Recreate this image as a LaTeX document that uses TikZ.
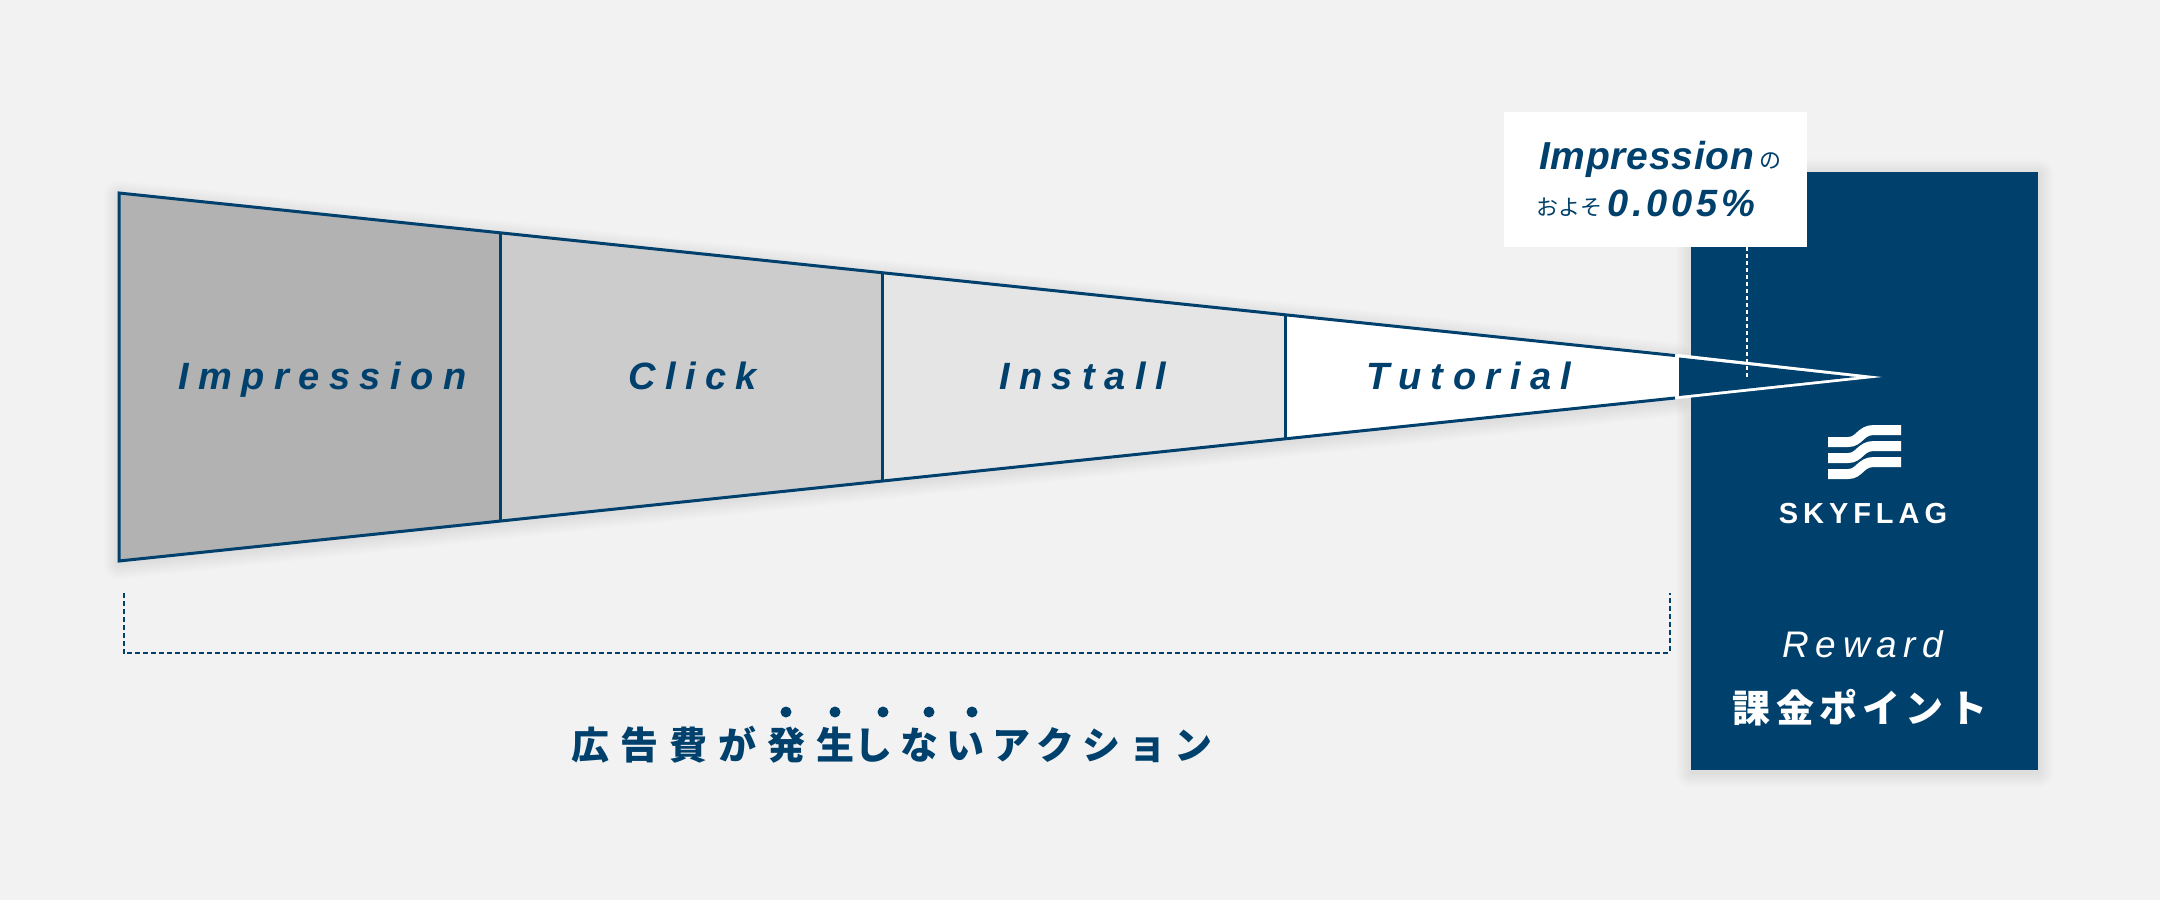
\documentclass[tikz,border=0pt]{standalone}
\usepackage{fontspec}
\setmainfont{Liberation Sans}
\newfontfamily\cjk{Noto Sans CJK JP}
\newcommand{\track}[1]{\addfontfeature{LetterSpace=#1}}
\definecolor{navy}{HTML}{00406C}
\definecolor{paper}{HTML}{F2F2F2}
\tikzset{
    stage/.style={inner sep=0pt, anchor=base west, text=navy, font=\fontsize{38}{38}\selectfont\bfseries\itshape\track{25}},
    note/.style={inner sep=0pt, anchor=base west, text=navy},
    panel/.style={inner sep=0pt, anchor=base, text=white},
    edge/.style={navy, line width=3pt},
    span/.style={navy, line width=2pt, dash pattern=on 5pt off 3pt},
}
\begin{document}
\begin{tikzpicture}[x=1pt, y=-1pt]
    \useasboundingbox (0, 0) rectangle (2160, 900);
    \fill[paper] (0, 0) rectangle (2160, 900);

    \foreach \w in {3, 6, ..., 30}
        \draw[black, opacity=0.007, line width=\w pt, line join=round]
            (119, 196) -- (1678, 358) -- (1678, 401) -- (119, 564) -- cycle;
    \foreach \w in {3, 6, ..., 30}
        \draw[black, opacity=0.007, line width=\w pt, line join=round]
            (1691, 174) rectangle (2038, 772);
    \fill[navy] (1691, 172) rectangle (2038, 770);

    \fill[white] (1504, 112) rectangle (1807, 247);

    \fill[gray!60] (119, 193) -- (500, 233) -- (500, 521) -- (119, 561) -- cycle;
    \fill[gray!40] (500, 233) -- (882, 273) -- (882, 481) -- (500, 521) -- cycle;
    \fill[gray!20] (882, 273) -- (1285, 315) -- (1285, 439) -- (882, 481) -- cycle;
    \fill[white] (1285, 315) -- (1678, 354) -- (1882, 377) -- (1678, 399) -- (1285, 439) -- cycle;
    \draw[edge, line join=miter] (1675, 355.5) -- (119, 193) -- (119, 561) -- (1675, 398);
    \draw[edge] (500, 233) -- (500, 521);
    \draw[edge] (882, 273) -- (882, 481);
    \draw[edge] (1285, 315) -- (1285, 439);
    \fill[navy] (1679, 357.5) -- (1856, 377) -- (1679, 396) -- cycle;
    \draw[white, line width=1.8pt, dash pattern=on 4pt off 3pt] (1747, 247) -- (1747, 379);

    \node[stage] (impression) at (178, 389) {Impression};
    \node[stage] (click) at (628, 389) {Click};
    \node[stage] (install) at (999, 389) {Install};
    \node[stage] (tutorial) at (1366, 389) {Tutorial};

    \node[note, font=\fontsize{39}{39}\selectfont\bfseries\itshape\track{2}] (ratio) at (1539, 169) {Impression};
    \node[note, font=\fontsize{22}{22}\selectfont\cjk] (of) at (1759, 168) {の};
    \node[note, font=\fontsize{22}{22}\selectfont\cjk] (about) at (1536, 215) {およそ};
    \node[note, font=\fontsize{38}{38}\selectfont\bfseries\itshape\track{10}] (share) at (1607, 216) {0.005\%};

    \foreach \y in {442, 458, 474}
        \draw[white, line width=10pt] (1828, \y) -- (1848, \y)
            .. controls (1860, \y) and (1860, \y - 12) .. (1874, \y - 12) -- (1901, \y - 12);

    \node[panel, font=\fontsize{29}{29}\selectfont\bfseries\track{17}] (logo) at (1863, 523) {SKYFLAG};
    \node[panel, font=\fontsize{37}{37}\selectfont\itshape\track{18}] (reward) at (1863, 657) {Reward};
    \node[panel, font=\fontsize{38}{38}\selectfont\cjk\bfseries\track{14}] (billing) at (1860, 722) {課金ポイント};

    \coordinate (spanleft) at (123.7, 593);
    \coordinate (spanright) at (1669.5, 593);
    \draw[span] (spanleft) -- (123.7, 653.3) -- (1669.5, 653.3) -- (spanright);

    \foreach \x in {786, 835, 883, 929, 972}
        \fill[navy] (\x, 712) circle (5.5);
    \node[note, font=\fontsize{38}{38}\selectfont\cjk\bfseries] (free) at (571, 759) {{\track{29}広告費が発生}{\track{21}しないアクション}};
\end{tikzpicture}
\end{document}
